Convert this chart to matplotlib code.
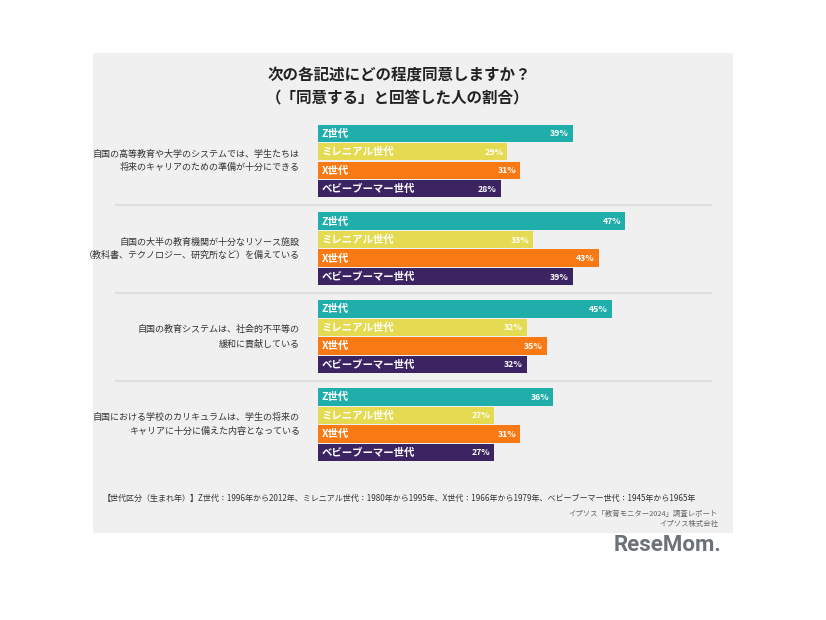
import matplotlib
matplotlib.use("Agg")
import matplotlib.pyplot as plt
from matplotlib.patches import Rectangle

plt.rcParams['font.family'] = ['Noto Sans CJK JP', 'DejaVu Sans']

# data
questions = [
    "自国の高等教育や大学のシステムでは、学生たちは\n将来のキャリアのための準備が十分にできる",
    "自国の大半の教育機関が十分なリソース施設\n（教科書、テクノロジー、研究所など）を備えている",
    "自国の教育システムは、社会的不平等の\n緩和に貢献している",
    "自国における学校のカリキュラムは、学生の将来の\nキャリアに十分に備えた内容となっている",
]
generations = ["Z世代", "ミレニアル世代", "X世代", "ベビーブーマー世代"]
gen_colors = ["#20aeaa", "#e5db52", "#f97a14", "#3c2362"]
values = [
    [39, 29, 31, 28],
    [47, 33, 43, 39],
    [45, 32, 35, 32],
    [36, 27, 31, 27],
]

W, H = 826, 620
fig = plt.figure(figsize=(W / 100, H / 100), dpi=100)
fig.patch.set_facecolor("white")

def fx(px):
    return px / W

def fy(py):
    return 1 - py / H

# grey panel
fig.patches.append(Rectangle((fx(93), fy(533)), fx(733) - fx(93), fy(53) - fy(533),
                             transform=fig.transFigure, facecolor="#f0f0f0",
                             edgecolor="none", zorder=-5))

# bar axes: 0..60 % across 318..714 px
ax = fig.add_axes([fx(318), fy(480), fx(714) - fx(318), fy(110) - fy(480)])
ax.set_zorder(2)
ax.set_facecolor("none")
ax.set_xlim(0, 396 / 6.53)
ax.set_ylim(18.74, -1.257)
ax.axis("off")

group_step = 4.75
for gi, (q, vals) in enumerate(zip(questions, values)):
    base = gi * group_step
    for bj, (g, v, c) in enumerate(zip(generations, vals, gen_colors)):
        y = base + bj
        ax.barh(y, v, height=0.94, color=c, edgecolor="none")
        ax.text(0.6, y + 0.02, g, color="white", fontsize=7.5, fontweight="bold",
                ha="left", va="center")
        ax.text(v - 0.6, y + 0.02, f"{v}%", color="white", fontsize=6.3,
                fontweight="bold", ha="right", va="center")
    ax.text(-2.8, base + 1.5, q, ha="right", va="center", fontsize=6.5,
            color="#333333", linespacing=1.65)
    if gi < len(questions) - 1:
        sep = base + 3.5 + (group_step - 4) / 2
        ax.hlines(sep, -31.1, 60.3, color="#dedede", linewidth=1.5, clip_on=False)

# titles
fig.text(fx(399), fy(75), "次の各記述にどの程度同意しますか？", ha="center", va="center",
         fontsize=11.2, fontweight="bold", color="#222222")
fig.text(fx(398), fy(97), "（「同意する」と回答した人の割合）", ha="center", va="center",
         fontsize=11.2, fontweight="bold", color="#222222")

# footnotes
fig.text(fx(103), fy(498),
         "【世代区分（生まれ年）】Z世代：1996年から2012年、ミレニアル世代：1980年から1995年、"
         "X世代：1966年から1979年、ベビーブーマー世代：1945年から1965年",
         ha="left", va="center", fontsize=5.8, color="#333333")
fig.text(fx(718), fy(514), "イプソス「教育モニター2024」調査レポート", ha="right", va="center",
         fontsize=5.3, color="#666666")
fig.text(fx(718), fy(524), "イプソス株式会社", ha="right", va="center",
         fontsize=5.3, color="#666666")

# logo
fig.text(fx(721), fy(545), "ReseMom.", ha="right", va="center", fontsize=16,
         fontweight="bold", color="#6b7378", family=["Roboto", "DejaVu Sans"])

fig.savefig("out.png", dpi=100, facecolor="white")
